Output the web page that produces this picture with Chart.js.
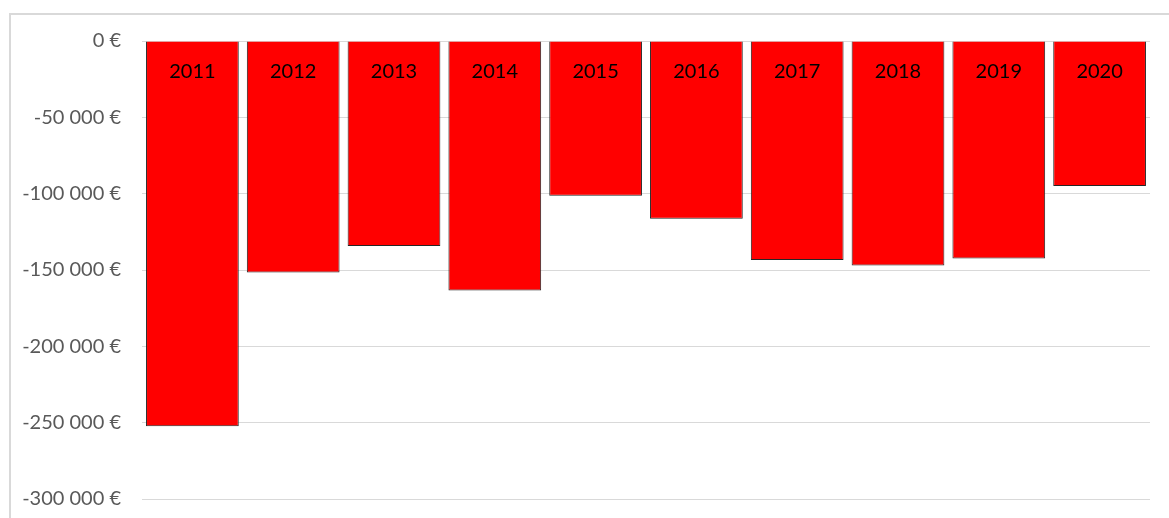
<!DOCTYPE html>
<html>
<head>
<meta charset="utf-8">
<script src="https://cdn.jsdelivr.net/npm/chart.js@4/dist/chart.umd.min.js"></script>
<style>
    html, body { margin: 0; padding: 0; background: #fff; overflow: hidden; }
    .frame {
        position: absolute; left: 9px; top: 13px; width: 1200px; height: 600px;
        border-left: 2px solid #d9d9d9; border-top: 2px solid #d9d9d9;
    }
    .wrap { position: absolute; left: 0; top: 0; width: 1169px; height: 532px; }
</style>
</head>
<body>
<div class="frame"></div>
<div class="wrap"><canvas id="chart"></canvas></div>
<script>
    // years and yearly result (EUR)
    const years = ['2011', '2012', '2013', '2014', '2015', '2016', '2017', '2018', '2019', '2020'];
    const values = [-252300, -151600, -134300, -163500, -101400, -116400, -143500, -147000, -142400, -95000];
    const yMin = -300000;
    const yMax = 0;
    const yStep = 50000;

    function formatEuro(v) {
        let s = Math.abs(v).toString().replace(/\B(?=(\d{3})+(?!\d))/g, '\u00a0');
        return (v < 0 ? '-' : '') + s + '\u00a0€';
    }

    // draws the year inside each bar, just below the zero line
    const labelsInBars = {
        id: 'labelsInBars',
        afterDatasetsDraw(chart) {
            let ctx = chart.ctx;
            let meta = chart.getDatasetMeta(0);
            let zeroY = chart.scales.y.getPixelForValue(0);
            ctx.save();
            ctx.font = '20px Lato, sans-serif';
            ctx.fillStyle = '#000';
            ctx.textAlign = 'center';
            ctx.textBaseline = 'middle';
            meta.data.forEach((bar, i) => {
                ctx.fillText(chart.data.labels[i], bar.x, zeroY + 31);
            });
            ctx.restore();
        }
    };

    new Chart(document.getElementById('chart'), {
        type: 'bar',
        data: {
            labels: years,
            datasets: [{
                data: values,
                backgroundColor: '#ff0000',
                borderColor: '#262626',
                borderWidth: 1,
                categoryPercentage: 1,
                barPercentage: 0.92,
            }]
        },
        options: {
            responsive: true,
            maintainAspectRatio: false,
            animation: false,
            layout: {
                padding: { top: 41, bottom: 6, right: 19, left: 0 }
            },
            plugins: {
                legend: { display: false },
                tooltip: { enabled: false },
            },
            scales: {
                x: {
                    display: false,
                },
                y: {
                    min: yMin,
                    max: yMax,
                    afterFit(scale) {
                        scale.width = 142;
                    },
                    ticks: {
                        stepSize: yStep,
                        color: '#595959',
                        padding: 21,
                        font: { family: 'Lato, sans-serif', size: 20 },
                        callback: v => formatEuro(v),
                    },
                    grid: {
                        color: '#d9d9d9',
                        lineWidth: 1,
                        drawTicks: false,
                    },
                    border: { display: false },
                }
            }
        },
        plugins: [labelsInBars],
    });
</script>
</body>
</html>
